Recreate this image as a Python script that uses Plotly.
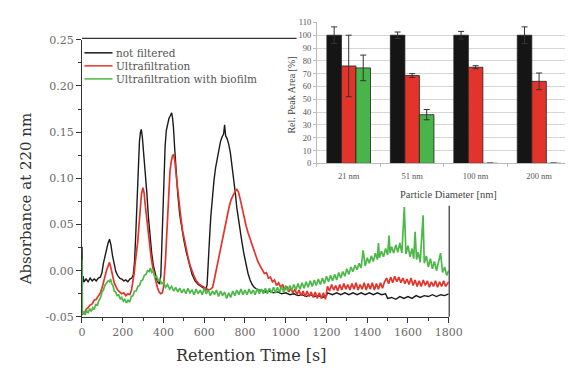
import plotly.graph_objects as go

# ---------------- main chromatogram data (retention time [s], absorbance) ----------------
black_points = [
    (0, 0.026), (2, -0.016), (5, -0.006), (10, -0.012), (20, -0.009), (30, -0.012), (40, -0.008),
    (50, -0.011), (60, -0.009), (70, -0.011), (80, -0.008), (90, -0.007), (98, -0.002), (105, 0.008),
    (112, 0.016), (120, 0.024), (128, 0.030), (135, 0.034), (142, 0.028), (150, 0.016), (158, 0.006),
    (166, -0.001), (175, -0.005), (185, -0.008), (195, -0.009), (205, -0.011), (215, -0.010),
    (225, -0.012), (235, -0.009), (245, -0.008), (252, -0.004), (258, 0.010), (264, 0.040),
    (270, 0.080), (276, 0.115), (282, 0.140), (287, 0.150), (291, 0.153), (296, 0.145), (303, 0.128),
    (310, 0.110), (318, 0.085), (326, 0.058), (334, 0.036), (342, 0.019), (350, 0.006), (358, -0.003),
    (366, -0.009), (374, -0.013), (381, -0.014), (387, -0.005), (392, 0.025), (397, 0.065),
    (402, 0.105), (408, 0.135), (414, 0.152), (420, 0.160), (427, 0.165), (434, 0.168), (440, 0.171),
    (444, 0.166), (449, 0.155), (455, 0.132), (462, 0.105), (470, 0.083), (480, 0.060), (490, 0.045),
    (500, 0.033), (512, 0.020), (525, 0.008), (540, -0.004), (555, -0.011), (570, -0.015),
    (585, -0.017), (598, -0.019), (608, -0.021), (614, -0.015), (620, 0.005), (626, 0.035),
    (632, 0.058), (640, 0.080), (648, 0.098), (656, 0.112), (664, 0.123), (672, 0.132), (680, 0.140),
    (688, 0.145), (695, 0.148), (700, 0.158), (705, 0.146), (712, 0.143), (720, 0.137), (728, 0.128),
    (736, 0.115), (744, 0.102), (752, 0.085), (760, 0.068), (768, 0.055), (776, 0.045), (785, 0.031),
    (795, 0.018), (805, 0.007), (815, -0.003), (825, -0.010), (835, -0.015), (845, -0.018),
    (855, -0.020), (865, -0.021), (880, -0.021), (900, -0.023), (920, -0.022), (940, -0.024),
    (960, -0.023), (980, -0.025), (1000, -0.024), (1020, -0.026), (1040, -0.025), (1060, -0.027),
    (1080, -0.026), (1100, -0.028), (1120, -0.026), (1140, -0.028), (1160, -0.027), (1180, -0.029),
    (1200, -0.027), (1205, -0.024), (1230, -0.026), (1250, -0.024), (1270, -0.026), (1290, -0.024),
    (1310, -0.026), (1330, -0.024), (1350, -0.026), (1370, -0.024), (1390, -0.026), (1410, -0.024),
    (1430, -0.026), (1450, -0.024), (1470, -0.026), (1490, -0.025), (1500, -0.030), (1520, -0.029),
    (1540, -0.031), (1560, -0.028), (1580, -0.030), (1600, -0.028), (1620, -0.030), (1640, -0.027),
    (1660, -0.029), (1680, -0.027), (1700, -0.028), (1720, -0.026), (1740, -0.028), (1760, -0.026),
    (1780, -0.027), (1800, -0.025),
]

red_points = [
    (0, -0.048), (5, -0.045), (10, -0.047), (20, -0.042), (30, -0.040), (40, -0.037), (50, -0.036),
    (60, -0.032), (70, -0.031), (80, -0.027), (90, -0.024), (98, -0.019), (105, -0.012), (112, -0.006),
    (120, 0.000), (128, 0.005), (135, 0.009), (142, 0.003), (150, -0.006), (158, -0.013),
    (166, -0.017), (175, -0.021), (185, -0.023), (195, -0.025), (205, -0.024), (215, -0.027),
    (225, -0.025), (235, -0.026), (243, -0.021), (250, -0.013), (256, -0.003), (262, 0.010),
    (268, 0.020), (274, 0.032), (280, 0.050), (286, 0.070), (292, 0.083), (299, 0.090), (305, 0.084),
    (311, 0.070), (318, 0.056), (325, 0.040), (332, 0.027), (339, 0.015), (347, 0.004), (355, -0.006),
    (362, -0.011), (370, -0.018), (378, -0.023), (386, -0.025), (394, -0.024), (400, -0.018),
    (405, -0.005), (410, 0.012), (415, 0.035), (420, 0.060), (426, 0.088), (432, 0.108), (438, 0.118),
    (444, 0.124), (450, 0.126), (456, 0.118), (463, 0.102), (470, 0.086), (478, 0.070), (486, 0.056),
    (494, 0.043), (503, 0.032), (512, 0.022), (521, 0.014), (530, 0.006), (540, -0.001), (550, -0.006),
    (561, -0.011), (572, -0.014), (585, -0.016), (598, -0.018), (610, -0.019), (622, -0.021),
    (632, -0.020), (641, -0.018), (650, -0.009), (660, 0.002), (670, 0.014), (682, 0.027),
    (696, 0.042), (710, 0.058), (722, 0.069), (732, 0.077), (742, 0.082), (752, 0.086), (760, 0.088),
    (768, 0.085), (776, 0.078), (785, 0.068), (795, 0.059), (805, 0.049), (815, 0.041), (825, 0.034),
    (835, 0.027), (845, 0.021), (855, 0.015), (865, 0.009), (875, 0.005), (885, 0.002), (895, -0.003),
    (905, -0.002), (915, -0.008), (925, -0.007), (935, -0.012), (945, -0.010), (955, -0.016),
    (965, -0.013), (975, -0.018), (985, -0.015), (995, -0.021), (1005, -0.017), (1015, -0.023),
    (1025, -0.019), (1035, -0.024), (1045, -0.020), (1055, -0.026), (1065, -0.021), (1075, -0.027),
    (1085, -0.022), (1095, -0.028), (1105, -0.022), (1115, -0.028), (1125, -0.023), (1135, -0.029),
    (1145, -0.023), (1155, -0.030), (1165, -0.024), (1175, -0.030), (1185, -0.024), (1195, -0.031),
    (1205, -0.017), (1215, -0.022), (1225, -0.015), (1235, -0.021), (1245, -0.016), (1255, -0.022),
    (1265, -0.015), (1275, -0.021), (1285, -0.014), (1295, -0.020), (1305, -0.015), (1315, -0.021),
    (1325, -0.014), (1335, -0.020), (1345, -0.013), (1355, -0.021), (1365, -0.015), (1375, -0.020),
    (1385, -0.013), (1395, -0.021), (1405, -0.014), (1415, -0.020), (1425, -0.013), (1435, -0.021),
    (1445, -0.014), (1455, -0.020), (1465, -0.013), (1475, -0.019), (1485, -0.012), (1495, -0.008),
    (1505, -0.014), (1515, -0.007), (1525, -0.013), (1535, -0.006), (1545, -0.012), (1555, -0.007),
    (1565, -0.013), (1575, -0.008), (1585, -0.014), (1595, -0.009), (1605, -0.015), (1615, -0.008),
    (1625, -0.016), (1635, -0.010), (1645, -0.017), (1655, -0.011), (1665, -0.017), (1675, -0.010),
    (1685, -0.016), (1695, -0.011), (1705, -0.018), (1715, -0.012), (1725, -0.017), (1735, -0.011),
    (1745, -0.018), (1755, -0.012), (1765, -0.017), (1775, -0.011), (1785, -0.017), (1800, -0.012),
]

green_points = [
    (0, 0.012), (2, -0.047), (8, -0.044), (15, -0.048), (22, -0.043), (30, -0.046), (38, -0.041),
    (45, -0.044), (53, -0.040), (60, -0.042), (68, -0.036), (75, -0.038), (83, -0.032), (90, -0.030),
    (98, -0.023), (105, -0.021), (112, -0.016), (120, -0.014), (128, -0.011), (135, -0.012),
    (140, -0.009), (146, -0.014), (152, -0.016), (158, -0.022), (165, -0.023), (172, -0.027),
    (180, -0.026), (188, -0.031), (195, -0.029), (203, -0.033), (210, -0.031), (218, -0.035),
    (226, -0.032), (234, -0.034), (242, -0.028), (250, -0.027), (258, -0.022), (266, -0.022),
    (274, -0.017), (282, -0.016), (290, -0.011), (298, -0.010), (306, -0.005), (314, -0.004),
    (322, 0.000), (330, -0.001), (336, 0.003), (342, -0.002), (350, -0.001), (358, -0.007),
    (366, -0.006), (374, -0.011), (382, -0.009), (390, -0.014), (400, -0.013), (410, -0.018),
    (420, -0.015), (430, -0.020), (440, -0.017), (450, -0.022), (460, -0.018), (470, -0.023),
    (480, -0.019), (490, -0.024), (500, -0.020), (510, -0.025), (520, -0.019), (530, -0.024),
    (540, -0.021), (550, -0.026), (560, -0.020), (570, -0.025), (580, -0.021), (590, -0.026),
    (600, -0.019), (610, -0.025), (620, -0.021), (630, -0.027), (640, -0.022), (650, -0.026),
    (660, -0.021), (670, -0.028), (680, -0.022), (690, -0.027), (700, -0.023), (710, -0.030),
    (720, -0.024), (730, -0.029), (740, -0.022), (750, -0.027), (760, -0.021), (770, -0.026),
    (780, -0.020), (790, -0.026), (800, -0.021), (810, -0.026), (820, -0.020), (830, -0.025),
    (840, -0.021), (850, -0.026), (860, -0.019), (870, -0.025), (880, -0.020), (890, -0.025),
    (900, -0.019), (910, -0.025), (920, -0.019), (930, -0.024), (940, -0.018), (950, -0.024),
    (960, -0.018), (970, -0.023), (980, -0.017), (990, -0.023), (1000, -0.016), (1010, -0.022),
    (1020, -0.016), (1030, -0.021), (1040, -0.015), (1050, -0.021), (1060, -0.014), (1070, -0.020),
    (1080, -0.013), (1090, -0.019), (1100, -0.012), (1110, -0.018), (1120, -0.011), (1130, -0.017),
    (1140, -0.010), (1150, -0.016), (1160, -0.009), (1170, -0.015), (1180, -0.008), (1190, -0.014),
    (1200, -0.006), (1210, -0.012), (1220, -0.005), (1230, -0.011), (1240, -0.004), (1250, -0.010),
    (1260, -0.002), (1270, -0.008), (1280, -0.001), (1290, -0.006), (1300, 0.002), (1310, -0.004),
    (1320, 0.004), (1330, -0.001), (1340, 0.006), (1350, 0.001), (1360, 0.008), (1370, 0.003),
    (1380, 0.022), (1390, 0.005), (1400, 0.014), (1410, 0.008), (1420, 0.016), (1430, 0.010),
    (1440, 0.019), (1450, 0.012), (1455, 0.030), (1460, 0.014), (1470, 0.021), (1480, 0.015),
    (1490, 0.024), (1500, 0.017), (1507, 0.038), (1512, 0.019), (1520, 0.026), (1530, 0.019),
    (1540, 0.028), (1550, 0.020), (1560, 0.030), (1570, 0.019), (1582, 0.069), (1590, 0.018),
    (1600, 0.027), (1610, 0.015), (1620, 0.024), (1628, 0.013), (1635, 0.042), (1642, 0.012),
    (1650, 0.020), (1660, 0.009), (1674, 0.060), (1680, 0.008), (1690, 0.016), (1700, 0.004),
    (1710, 0.013), (1720, 0.002), (1730, 0.010), (1740, 0.000), (1750, 0.008), (1760, 0.019),
    (1770, -0.002), (1780, 0.004), (1790, -0.005), (1800, 0.000),
]

series_names = ["not filtered", "Ultrafiltration", "Ultrafiltration with biofilm"]
series_colors = ["#1a1a1a", "#e3342b", "#4cb847"]

x_ticks = [0, 200, 400, 600, 800, 1000, 1200, 1400, 1600, 1800]
y_ticks = [-0.05, 0.00, 0.05, 0.10, 0.15, 0.20, 0.25]

# ---------------- inset bar chart data ----------------
categories = ["21 nm", "51 nm", "100 nm", "200 nm"]
area_not_filtered = [100, 100, 100, 100]
err_not_filtered = [6.5, 2.5, 3, 6.5]
area_uf = [76, 68.5, 75, 64]
err_uf = [24, 1.5, 1.2, 6.5]
area_uf_bio = [74.5, 38, 0, 0]
err_uf_bio = [10, 4, 0.3, 0.3]

W, H = 579, 376


def px(x):
    return x / W


def py(y):
    return 1 - y / H


MAIN_FONT = "DejaVu Serif"
INSET_FONT = "Liberation Serif"

fig = go.Figure()

for pts, name, col, wd in zip([black_points, red_points, green_points], series_names,
                              series_colors, [1.4, 1.7, 1.7]):
    t, a = zip(*pts)
    fig.add_trace(go.Scatter(x=list(t), y=list(a), mode="lines", name=name,
                             line=dict(color=col, width=wd), showlegend=False,
                             xaxis="x", yaxis="y"))

bar_colors = ["#151515", "#e3342b", "#49b449"]
for vals, errs, col, name in zip([area_not_filtered, area_uf, area_uf_bio],
                                 [err_not_filtered, err_uf, err_uf_bio], bar_colors, series_names):
    fig.add_trace(go.Bar(x=categories, y=vals, name=name, showlegend=False,
                         marker=dict(color=col, line=dict(color="#222222", width=0.8)),
                         error_y=dict(type="data", array=errs, color="#333333", thickness=1, width=3),
                         xaxis="x2", yaxis="y2"))

# the inset plot area runs past the right edge of the picture in the original
inset_left = 323
cat_px = 65.5
inset_span = (W - inset_left) / cat_px

fig.update_layout(
    width=W, height=H,
    margin=dict(l=0, r=0, t=0, b=0),
    paper_bgcolor="white", plot_bgcolor="#ffffff",
    barmode="group", bargap=0.313, bargroupgap=0,
    xaxis=dict(domain=[px(80.5), px(459)], anchor="y", range=[0, 1800],
               tickvals=x_ticks, ticktext=[str(v) for v in x_ticks],
               showline=True, linecolor="#333333", linewidth=1.2, mirror=False,
               ticks="outside", ticklen=5, tickcolor="#333333", tickwidth=1,
               minor=dict(dtick=100, ticks="outside", ticklen=3, tickcolor="#333333"),
               showgrid=False, zeroline=False,
               tickfont=dict(family=MAIN_FONT, size=11, color="#6a6a6a")),
    yaxis=dict(domain=[py(322), py(35)], anchor="x", range=[-0.05, 0.25],
               tickvals=y_ticks, ticktext=["%.2f" % v for v in y_ticks],
               showline=True, linecolor="#333333", linewidth=1.2, mirror=False,
               ticks="outside", ticklen=5, tickcolor="#333333", tickwidth=1,
               minor=dict(dtick=0.025, ticks="outside", ticklen=3, tickcolor="#333333"),
               showgrid=False, zeroline=False,
               tickfont=dict(family=MAIN_FONT, size=11, color="#6a6a6a")),
    xaxis2=dict(domain=[px(inset_left), 1], anchor="y2", range=[-0.5, -0.5 + inset_span],
                type="category",
                showline=True, linecolor="#bbbbbb", linewidth=1,
                ticks="outside", tickson="boundaries", ticklen=3, tickcolor="#bbbbbb",
                showgrid=False, zeroline=False, ticklabelstandoff=4,
                tickfont=dict(family=INSET_FONT, size=8.5, color="#555555")),
    yaxis2=dict(domain=[py(163), py(17)], anchor="x2", range=[0, 110], dtick=10,
                showline=True, linecolor="#bbbbbb", linewidth=1,
                ticks="outside", ticklen=3, tickcolor="#bbbbbb",
                showgrid=True, gridcolor="#d6d6d6", gridwidth=1, zeroline=False,
                tickfont=dict(family=INSET_FONT, size=8.5, color="#555555")),
)

# main frame: top and right borders (partly hidden by the inset in the original)
fig.add_shape(type="line", xref="paper", yref="paper", x0=px(80.5), x1=px(302),
              y0=py(33.5), y1=py(33.5), line=dict(color="#333333", width=1.2))
fig.add_shape(type="line", xref="paper", yref="paper", x0=px(459.5), x1=px(459.5),
              y0=py(322), y1=py(207), line=dict(color="#333333", width=1.2))

annotations = [
    dict(text="Absorbance at 220 nm", x=px(23), y=py(200), textangle=-90,
         font=dict(family=MAIN_FONT, size=15, color="#333333")),
    dict(text="Retention Time [s]", x=px(255), y=py(362),
         font=dict(family=MAIN_FONT, size=16, color="#333333")),
    dict(text="Particle Diameter [nm]", x=px(459), y=py(195),
         font=dict(family=INSET_FONT, size=10.5, color="#444444")),
    dict(text="Rel. Peak Area [%]", x=px(297), y=py(92), textangle=-90,
         font=dict(family=INSET_FONT, size=10, color="#444444")),
]
for a in annotations:
    a.update(xref="paper", yref="paper", showarrow=False, xanchor="center", yanchor="middle")
    fig.add_annotation(**a)

# legend drawn as line samples + text
legend_rows = [48.5, 62, 75.5]
for row, name, col in zip(legend_rows, series_names, series_colors):
    fig.add_shape(type="line", xref="paper", yref="paper", x0=px(83), x1=px(112),
                  y0=py(row), y1=py(row), line=dict(color=col, width=1.5))
    fig.add_annotation(text=name, xref="paper", yref="paper", x=px(114), y=py(row),
                       xanchor="left", yanchor="middle", showarrow=False,
                       font=dict(family=MAIN_FONT, size=10.5, color="#555555"))

fig.write_html("out.html")
